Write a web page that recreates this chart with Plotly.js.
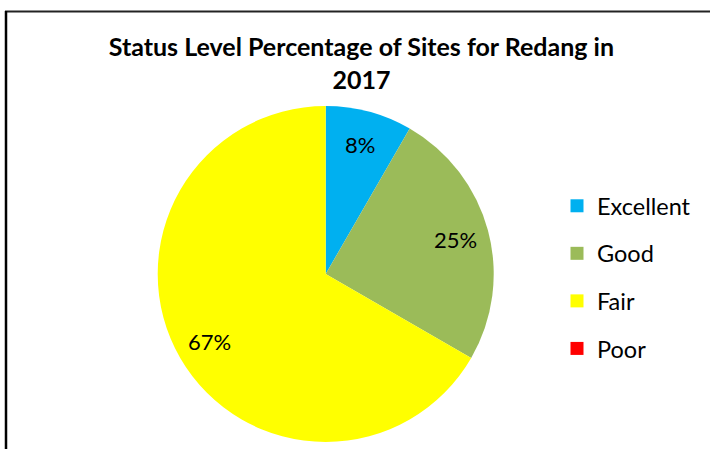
<!DOCTYPE html>
<html><head><meta charset="utf-8">
<script src="https://cdn.plot.ly/plotly-3.0.1.min.js"></script>
<style>html,body{margin:0;padding:0;background:#fff}#chart{width:710px;height:449px}</style>
</head><body><div id="chart"></div>
<script>
const categories = ["Excellent", "Good", "Fair", "Poor"];
const siteCounts = [1, 3, 8, 0];
const sliceColors = ["#00B0F0", "#9BBB59", "#FFFF00", "#FF0000"];
const chartTitle = "Status Level Percentage of Sites for Redang in<br>2017";

const W = 710, H = 449;
const cx = 325.7, cy = 274, R = 168;
const labelRadius = 0.8 * R;
const FONT = "Lato, 'Open Sans', sans-serif";

const total = siteCounts.reduce((a, b) => a + b, 0);

const pie = {
  type: "pie",
  labels: categories,
  values: siteCounts,
  marker: {colors: sliceColors, line: {width: 0}},
  sort: false,
  direction: "clockwise",
  rotation: 0,
  textinfo: "none",
  showlegend: false,
  hoverinfo: "label+percent",
  domain: {x: [(cx - R) / W, (cx + R) / W], y: [(H - cy - R) / H, (H - cy + R) / H]}
};

// data labels: placed at each slice's mid-angle, computed from the values, via the axes' scales
const labelAnnotations = [];
let cum = 0;
siteCounts.forEach((v) => {
  if (v > 0) {
    const a = (cum + v / 2) / total * 2 * Math.PI;
    labelAnnotations.push({
      xref: "x", yref: "y",
      x: cx + labelRadius * Math.sin(a),
      y: H - (cy - labelRadius * Math.cos(a)),
      text: Math.round(v / total * 100) + "%",
      showarrow: false, xanchor: "center", yanchor: "middle",
      font: {family: FONT, size: 22, color: "#000"}
    });
  }
  cum += v;
});

// legend entries, one per category
const legendTraces = categories.map((c, i) => ({
  type: "scatter", mode: "markers", x: [null], y: [null], name: c,
  legendgroup: c,
  marker: {symbol: "square", size: 13, color: sliceColors[i]},
  showlegend: true, hoverinfo: "skip"
}));

const layout = {
  width: W, height: H,
  margin: {l: 0, r: 0, t: 0, b: 0},
  paper_bgcolor: "#fff",
  plot_bgcolor: "rgba(0,0,0,0)",
  font: {family: FONT, color: "#000"},
  xaxis: {range: [0, W], visible: false, fixedrange: true},
  yaxis: {range: [0, H], visible: false, fixedrange: true},
  title: {
    text: "<b>" + chartTitle + "</b>",
    font: {family: FONT, size: 25, color: "#000"},
    x: 0.509, xanchor: "center", y: 1 - 56 / H, yanchor: "top",
    xref: "paper", yref: "paper"
  },
  showlegend: true,
  legend: {
    x: 557 / W, xanchor: "left", y: 1 - 184 / H, yanchor: "top",
    font: {family: FONT, size: 23.5, color: "#000"},
    tracegroupgap: 14, itemwidth: 30,
    traceorder: "grouped",
    bgcolor: "rgba(0,0,0,0)"
  },
  annotations: labelAnnotations,
  shapes: [
    {type: "line", xref: "paper", yref: "paper", x0: 5 / W, x1: 1, y0: 1 - 11.5 / H, y1: 1 - 11.5 / H, line: {color: "#222", width: 2}},
    {type: "line", xref: "paper", yref: "paper", x0: 6 / W, x1: 6 / W, y0: 0, y1: 1 - 11 / H, line: {color: "#000", width: 2.5}}
  ]
};

Plotly.newPlot("chart", [pie].concat(legendTraces), layout, {displayModeBar: false, staticPlot: true});
</script>
</body></html>
